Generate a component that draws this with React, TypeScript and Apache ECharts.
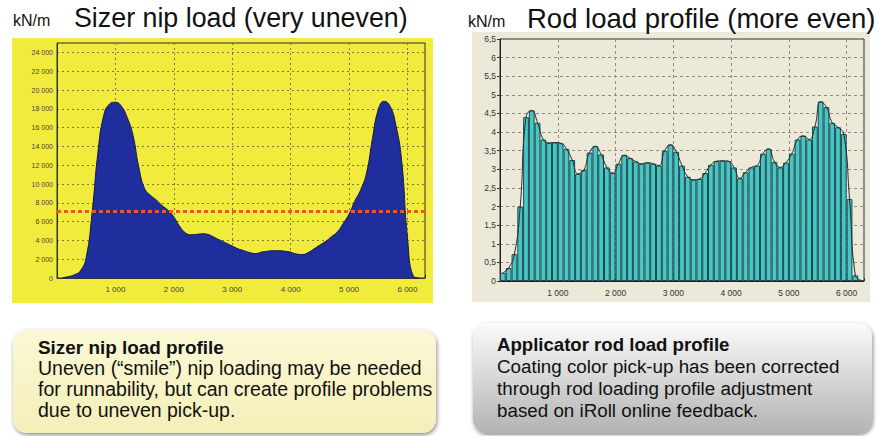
import React, { useEffect, useRef } from "react";
import * as echarts from "echarts";

// Sizer nip load profile (kN/m), sampled along the roll (mm)
const sizerPositions = [100,200,300,400,500,600,700,800,900,1000,1100,1200,1300,1400,1500,1600,1700,1800,1900,2000,2100,2200,2300,2400,2500,2600,2700,2800,2900,3000,3100,3200,3300,3400,3500,3600,3700,3800,3900,4000,4100,4200,4300,4400,4500,4600,4700,4800,4900,5000,5100,5200,5300,5400,5500,5600,5700,5800,5900,6000,6100,6200];
const sizerLoad = [50,150,350,750,2200,6900,13300,17300,18500,18700,18300,17100,15200,11800,9500,8800,8300,7700,7200,6500,5500,4800,4600,4650,4700,4600,4300,4000,3700,3400,3100,2900,2700,2600,2750,2850,2900,2900,2850,2750,2550,2500,2700,3100,3500,3900,4400,4900,5800,6800,8200,9400,11200,14800,17900,18800,18300,16300,12500,4300,200,0];
const sizerTarget = 7100;

// Applicator rod load profile (kN/m)
const rodPositions = [50,150,250,350,450,550,650,750,850,950,1050,1150,1250,1350,1450,1550,1650,1750,1850,1950,2050,2150,2250,2350,2450,2550,2650,2750,2850,2950,3050,3150,3250,3350,3450,3550,3650,3750,3850,3950,4050,4150,4250,4350,4450,4550,4650,4750,4850,4950,5050,5150,5250,5350,5450,5550,5650,5750,5850,5950,6050,6150,6250];
const rodLoad = [0.22,0.35,0.72,2.0,4.4,4.58,4.25,3.8,3.71,3.72,3.7,3.55,3.25,2.88,2.98,3.45,3.62,3.4,3.05,2.9,3.15,3.38,3.3,3.21,3.15,3.18,3.15,3.1,3.5,3.66,3.47,3.1,2.8,2.72,2.74,2.9,3.12,3.22,3.23,3.22,3.05,2.76,2.92,3.05,3.1,3.42,3.55,3.2,3.05,3.18,3.42,3.8,3.9,3.8,4.15,4.82,4.67,4.25,4.13,3.95,2.2,0.15,0.02];

const FONT = '"Liberation Sans", Arial, sans-serif';

const sizerTexts = [
  "Uneven (\u201csmile\u201d) nip loading may be needed",
  "for runnability, but can create profile problems",
  "due to uneven pick-up.",
];
const rodTexts = [
  "Coating color pick-up has been corrected",
  "through rod loading profile adjustment",
  "based on iRoll online feedback.",
];

function thousands(v: number) {
  const s = String(Math.round(v));
  return s.replace(/\B(?=(\d{3})+(?!\d))/g, " ");
}

export default function App() {
  const ref = useRef<HTMLDivElement>(null);
  useEffect(() => {
    if (!ref.current) return;
    const chart = echarts.init(ref.current, undefined, { renderer: "svg" });
    const pair = (xs: number[], ys: number[]) => xs.map((x, i) => [x, ys[i]]);

    const graphic: any[] = [
      { type: "rect", z: -10, shape: { x: 12, y: 38, width: 421, height: 265 }, style: { fill: "#f0eb3d" } },
      { type: "rect", z: -10, shape: { x: 472, y: 32, width: 398, height: 270 }, style: { fill: "#ece9d8" } },
      { type: "text", style: { text: "kN/m", x: 13, y: 20, fontSize: 16, fontFamily: FONT, fill: "#111", verticalAlign: "middle" } },
      { type: "text", style: { text: "Sizer nip load (very uneven)", x: 74, y: 18, fontSize: 26.8, fontFamily: FONT, fill: "#111", verticalAlign: "middle" } },
      { type: "text", style: { text: "kN/m", x: 468, y: 21, fontSize: 16, fontFamily: FONT, fill: "#111", verticalAlign: "middle" } },
      { type: "text", style: { text: "Rod load profile (more even)", x: 527, y: 18, fontSize: 27.5, fontFamily: FONT, fill: "#111", verticalAlign: "middle" } },
      {
        type: "rect",
        shape: { x: 13, y: 330, width: 423, height: 103, r: 14 },
        style: {
          fill: new echarts.graphic.LinearGradient(0, 0, 0, 1, [
            { offset: 0, color: "#fbf8d6" },
            { offset: 1, color: "#f4efb8" },
          ]),
          shadowBlur: 4, shadowColor: "rgba(0,0,0,0.45)", shadowOffsetX: 1, shadowOffsetY: 2,
        },
      },
      {
        type: "rect",
        shape: { x: 473, y: 323, width: 399, height: 110, r: 14 },
        style: {
          fill: new echarts.graphic.LinearGradient(0, 0, 0, 1, [
            { offset: 0, color: "#fbfbfb" },
            { offset: 1, color: "#b3b3b3" },
          ]),
          shadowBlur: 4, shadowColor: "rgba(0,0,0,0.45)", shadowOffsetX: 1, shadowOffsetY: 2,
        },
      },
      { type: "text", style: { text: "Sizer nip load profile", x: 38, y: 347, fontSize: 18.9, fontWeight: "bold", fontFamily: FONT, fill: "#111", verticalAlign: "middle" } },
      { type: "text", style: { text: "Applicator rod load profile", x: 497, y: 344, fontSize: 18.6, fontWeight: "bold", fontFamily: FONT, fill: "#111", verticalAlign: "middle" } },
    ];
    sizerTexts.forEach((t, i) =>
      graphic.push({ type: "text", style: { text: t, x: 38, y: 368 + i * 21, fontSize: 19.5, fontFamily: FONT, fill: "#111", verticalAlign: "middle" } })
    );
    rodTexts.forEach((t, i) =>
      graphic.push({ type: "text", style: { text: t, x: 497, y: 366 + i * 22, fontSize: 18.8, fontFamily: FONT, fill: "#111", verticalAlign: "middle" } })
    );

    chart.setOption({
      animation: false,
      graphic,
      grid: [
        { left: 57, top: 43, width: 368, height: 235, show: true, borderColor: "#333", borderWidth: 1, backgroundColor: "transparent" },
        { left: 500, top: 39, width: 364, height: 242, show: true, borderColor: "#333", borderWidth: 1, backgroundColor: "transparent" },
      ],
      xAxis: [
        {
          type: "value", gridIndex: 0, min: 0, max: 6300, interval: 1000,
          axisLine: { show: true, lineStyle: { color: "#333" } },
          axisTick: { show: true, length: 3, inside: true, lineStyle: { color: "#333" } },
          axisLabel: { fontSize: 8, color: "#444", fontFamily: FONT, margin: 7, formatter: (v: number) => (v > 0 && v % 1000 === 0 ? thousands(v) : "") },
          splitLine: { show: true, lineStyle: { color: "#7a7a40", type: [2, 3], width: 1 } },
        },
        {
          type: "value", gridIndex: 1, min: 0, max: 6300, interval: 1000,
          axisLine: { show: true, lineStyle: { color: "#222" } },
          axisTick: { show: true, length: 3, inside: true, lineStyle: { color: "#333" } },
          axisLabel: { fontSize: 8.5, color: "#333", fontFamily: FONT, margin: 7, formatter: (v: number) => (v > 0 && v % 1000 === 0 ? thousands(v) : "") },
          splitLine: { show: true, lineStyle: { color: "#8c8c8c", type: [3, 3], width: 1 } },
        },
      ],
      yAxis: [
        {
          type: "value", gridIndex: 0, min: 0, max: 25000, interval: 2000,
          axisLine: { show: true, lineStyle: { color: "#333" } },
          axisTick: { show: false },
          axisLabel: { fontSize: 7, color: "#444", fontFamily: FONT, margin: 4, formatter: (v: number) => (v % 2000 === 0 ? thousands(v) : "") },
          splitLine: { show: true, lineStyle: { color: "#7a7a40", type: [2, 3], width: 1 } },
        },
        {
          type: "value", gridIndex: 1, min: 0, max: 6.5, interval: 0.5,
          axisLine: { show: true, lineStyle: { color: "#222" } },
          axisTick: { show: true, length: 3, lineStyle: { color: "#333" } },
          axisLabel: { fontSize: 8.5, color: "#333", fontFamily: FONT, margin: 4, formatter: (v: number) => String(Math.round(v * 10) / 10).replace(".", ",") },
          splitLine: { show: true, lineStyle: { color: "#8c8c8c", type: [3, 3], width: 1 } },
        },
      ],
      series: [
        {
          type: "line", xAxisIndex: 0, yAxisIndex: 0, smooth: 0.5, showSymbol: false,
          data: pair(sizerPositions, sizerLoad),
          lineStyle: { color: "#15184a", width: 1 },
          areaStyle: { color: "#1f2e9c", opacity: 1 },
          markLine: {
            silent: true, symbol: "none", label: { show: false },
            lineStyle: { color: "#f2561d", type: [4, 3], width: 3 },
            data: [{ yAxis: sizerTarget }],
          },
          z: 3,
        },
        {
          type: "bar", xAxisIndex: 1, yAxisIndex: 1,
          data: pair(rodPositions, rodLoad),
          barCategoryGap: "0%", barGap: "0%",
          itemStyle: { color: "#47c6c6", borderColor: "#1c4b4e", borderWidth: 1 },
          z: 2,
        },
        {
          type: "line", xAxisIndex: 1, yAxisIndex: 1, smooth: 0.5, showSymbol: false,
          data: pair(rodPositions, rodLoad),
          lineStyle: { color: "#2a2a2a", width: 1 },
          z: 3,
        },
      ],
    });
    return () => chart.dispose();
  }, []);
  return <div ref={ref} style={{ position: "fixed", left: 0, top: 0, width: 880, height: 436, background: "#fff" }} />;
}
